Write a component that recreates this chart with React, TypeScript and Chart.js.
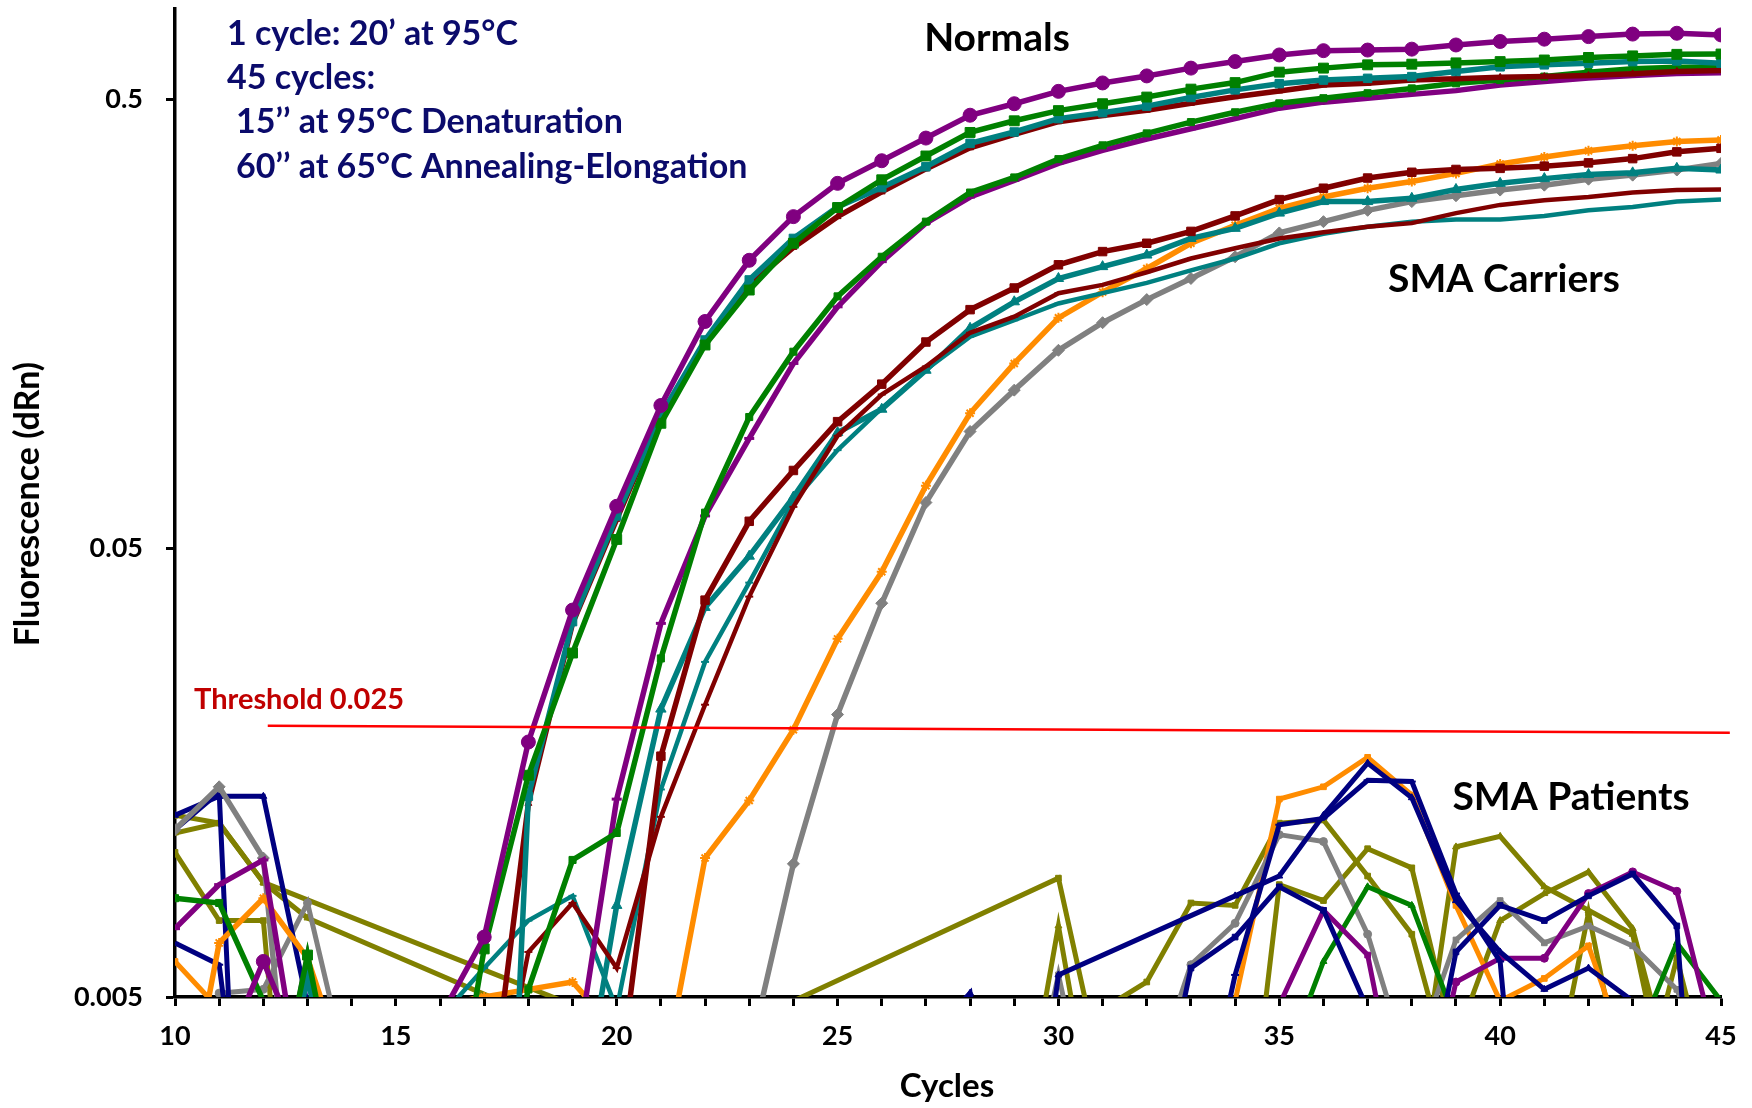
import React, { useEffect, useRef } from "react";
import { Chart, registerables } from "chart.js";

Chart.register(...registerables);

// ---------- data ----------
const cycles = [10, 11, 12, 13, 14, 15, 16, 17, 18, 19, 20, 21, 22, 23, 24, 25, 26, 27, 28, 29, 30, 31, 32, 33, 34, 35, 36, 37, 38, 39, 40, 41, 42, 43, 44, 45];
const yTickValues = [0.005, 0.05, 0.5];
const xTickLabels = ["10", "15", "20", "25", "30", "35", "40", "45"];
const thresholdX = [12.1, 45.2];
const thresholdY = [0.0201, 0.0194];

// Normals
const normal1Purple = [0.002, 0.0035, 0.006, 0.0035, 0.001, 0.001, 0.0045, 0.0068, 0.0185, 0.0364, 0.062, 0.104, 0.16, 0.219, 0.274, 0.325, 0.365, 0.41, 0.461, 0.489, 0.521, 0.544, 0.564, 0.587, 0.607, 0.628, 0.642, 0.644, 0.647, 0.661, 0.673, 0.681, 0.69, 0.699, 0.702, 0.696];
const normal2Green = [0.002, 0.002, 0.002, 0.0062, 0.002, 0.001, 0.0017, 0.0064, 0.0156, 0.0292, 0.0523, 0.0949, 0.1418, 0.188, 0.239, 0.287, 0.331, 0.374, 0.422, 0.448, 0.472, 0.489, 0.506, 0.527, 0.545, 0.575, 0.587, 0.597, 0.599, 0.603, 0.607, 0.612, 0.62, 0.625, 0.63, 0.631];
const normal3Teal = [0.002, 0.002, 0.002, 0.0055, 0.002, 0.001, 0.0001, 0.0001, 0.014, 0.0343, 0.059, 0.099, 0.1455, 0.198, 0.245, 0.288, 0.318, 0.354, 0.399, 0.423, 0.453, 0.467, 0.483, 0.505, 0.525, 0.542, 0.552, 0.557, 0.562, 0.577, 0.591, 0.597, 0.602, 0.607, 0.609, 0.602];
const normal4DarkRed = [0.002, 0.002, 0.002, 0.002, 0.002, 0.002, 0.002, 0.0022, 0.0135, 0.034, 0.058, 0.098, 0.143, 0.193, 0.234, 0.274, 0.311, 0.35, 0.39, 0.418, 0.446, 0.46, 0.473, 0.49, 0.507, 0.522, 0.538, 0.543, 0.552, 0.556, 0.56, 0.562, 0.565, 0.57, 0.577, 0.58];
const normal5Green = [0.0083, 0.0081, 0.0049, 0.002, 0.002, 0.002, 0.002, 0.002, 0.0052, 0.0101, 0.0116, 0.0284, 0.06, 0.098, 0.137, 0.182, 0.223, 0.267, 0.31, 0.335, 0.368, 0.395, 0.42, 0.445, 0.468, 0.49, 0.503, 0.516, 0.529, 0.543, 0.552, 0.562, 0.575, 0.585, 0.59, 0.59];
const normal6Purple = [0.0071, 0.0089, 0.0101, 0.0025, 0.001, 0.001, 0.001, 0.001, 0.001, 0.0032, 0.0138, 0.034, 0.059, 0.0878, 0.129, 0.1725, 0.2175, 0.265, 0.303, 0.33, 0.36, 0.385, 0.408, 0.43, 0.453, 0.478, 0.493, 0.503, 0.513, 0.523, 0.538, 0.548, 0.558, 0.565, 0.571, 0.573];

// SMA carriers
const carrier1DarkRed = [0.002, 0.002, 0.002, 0.002, 0.002, 0.002, 0.002, 0.002, 0.002, 0.002, 0.0029, 0.0172, 0.0383, 0.0574, 0.0745, 0.0957, 0.116, 0.144, 0.17, 0.19, 0.214, 0.229, 0.239, 0.254, 0.275, 0.299, 0.317, 0.334, 0.344, 0.349, 0.351, 0.355, 0.361, 0.369, 0.382, 0.389];
const carrier2DarkRed = [0.002, 0.002, 0.002, 0.002, 0.002, 0.002, 0.002, 0.002, 0.0063, 0.0081, 0.0058, 0.0126, 0.0224, 0.039, 0.0618, 0.089, 0.11, 0.127, 0.151, 0.164, 0.185, 0.193, 0.206, 0.221, 0.233, 0.245, 0.253, 0.26, 0.265, 0.279, 0.291, 0.298, 0.303, 0.31, 0.314, 0.315];
const carrier3Teal = [0.002, 0.002, 0.002, 0.002, 0.002, 0.002, 0.002, 0.002, 0.002, 0.0021, 0.008, 0.0219, 0.0369, 0.048, 0.065, 0.0905, 0.102, 0.1246, 0.1545, 0.177, 0.1995, 0.212, 0.225, 0.245, 0.258, 0.279, 0.296, 0.296, 0.301, 0.315, 0.325, 0.333, 0.34, 0.343, 0.351, 0.348];
const carrier4Teal = [0.002, 0.002, 0.002, 0.002, 0.002, 0.002, 0.0045, 0.0058, 0.0074, 0.0084, 0.0047, 0.0145, 0.0279, 0.0419, 0.0635, 0.0827, 0.1026, 0.125, 0.148, 0.161, 0.1755, 0.185, 0.195, 0.208, 0.221, 0.239, 0.251, 0.26, 0.267, 0.27, 0.27, 0.275, 0.283, 0.288, 0.296, 0.299];
const carrier5Orange = [0.002, 0.0066, 0.0083, 0.0061, 0.0031, 0.0043, 0.0048, 0.005, 0.0052, 0.0054, 0.0042, 0.0031, 0.0102, 0.0137, 0.0197, 0.0314, 0.0443, 0.0689, 0.0999, 0.129, 0.163, 0.186, 0.21, 0.239, 0.262, 0.286, 0.303, 0.317, 0.328, 0.342, 0.359, 0.372, 0.384, 0.394, 0.403, 0.406];
const carrier6Gray = [0.0118, 0.0147, 0.0102, 0.001, 0.001, 0.001, 0.001, 0.001, 0.001, 0.001, 0.001, 0.001, 0.001, 0.0037, 0.0099, 0.0213, 0.0377, 0.0632, 0.091, 0.1125, 0.138, 0.159, 0.179, 0.1995, 0.223, 0.252, 0.267, 0.283, 0.296, 0.305, 0.314, 0.322, 0.332, 0.339, 0.348, 0.36];

// SMA patients (values below 0.005 lie under the axis; null = no positive reading)
const patient1Navy = [0.0127, 0.014, 0.014, 0.0048, 0.002, 0.002, 0.002, 0.002, 0.002, 0.002, 0.002, 0.002, 0.002, 0.002, 0.002, 0.002, 0.002, 0.004, 0.0051, 0.001, 0.0056, null, null, null, 0.0084, 0.0093, 0.0127, 0.0166, 0.0139, 0.0082, 0.0063, 0.0052, 0.0058, 0.0049, 0.002, 0.002];
const patient2Navy = [0.0118, 0.0143, 0.0001, 0.002, 0.002, 0.002, 0.002, 0.002, 0.002, 0.002, 0.002, 0.002, 0.002, 0.002, 0.002, 0.002, 0.002, 0.002, 0.002, 0.002, 0.002, 0.002, 0.002, 0.0058, 0.0068, 0.0088, 0.0078, 0.0047, 0.002, 0.002, 0.002, 0.002, 0.002, 0.002, 0.002, 0.002];
const patient3Navy = [0.0066, 0.0059, 0.001, 0.002, 0.002, 0.002, 0.002, 0.002, 0.002, 0.002, 0.002, 0.002, 0.002, 0.002, 0.002, 0.002, 0.002, 0.002, 0.002, 0.002, 0.002, 0.002, 0.002, 0.002, 0.0056, 0.0121, 0.0125, 0.0152, 0.0151, 0.0085, 0.006, 0.0005, 0.002, 0.002, 0.002, 0.002];
const patient4Navy = [0.002, 0.002, 0.002, 0.002, 0.002, 0.002, 0.002, 0.002, 0.002, 0.002, 0.002, 0.002, 0.002, 0.002, 0.002, 0.002, 0.002, 0.002, 0.002, 0.002, 0.002, 0.002, 0.002, 0.002, 0.002, 0.002, 0.002, 0.002, 0.002, 0.0063, 0.008, 0.0074, 0.0084, 0.0094, 0.0072, 0.0003];
const patient5Purple = [0.002, 0.002, 0.002, 0.0062, 0.002, 0.002, 0.002, 0.002, 0.002, 0.002, 0.002, 0.002, 0.002, 0.002, 0.002, 0.002, 0.002, 0.002, 0.002, 0.002, 0.002, 0.002, 0.002, 0.002, 0.002, 0.002, 0.002, 0.002, 0.002, 0.0054, 0.0061, 0.0061, 0.0085, 0.0095, 0.0086, 0.0035];
const patient6Purple = [0.002, 0.002, 0.002, 0.002, 0.002, 0.002, 0.002, 0.002, 0.002, 0.002, 0.002, 0.002, 0.002, 0.002, 0.002, 0.002, 0.002, 0.002, 0.002, 0.002, 0.002, 0.002, 0.002, 0.002, 0.002, 0.0048, 0.0078, 0.0062, 0.002, 0.002, 0.002, 0.002, 0.002, 0.002, 0.002, 0.002];
const patient7Green = [0.002, 0.002, 0.002, 0.002, 0.002, 0.002, 0.002, 0.002, 0.002, 0.002, 0.002, 0.002, 0.002, 0.002, 0.002, 0.002, 0.002, 0.002, 0.002, 0.002, 0.002, 0.002, 0.002, 0.002, 0.002, 0.0033, 0.006, 0.0088, 0.008, 0.0044, 0.002, 0.002, 0.002, 0.0038, 0.0066, 0.0049];
const patient8Gray = [null, 0.0051, 0.0052, 0.0081, 0.0031, 0.002, 0.002, 0.002, 0.002, 0.002, 0.002, 0.002, 0.002, 0.002, 0.002, 0.002, 0.002, 0.002, 0.002, 0.002, 0.002, 0.002, 0.003, 0.0059, 0.0073, 0.0115, 0.0111, 0.0069, 0.0033, 0.002, 0.002, 0.002, 0.002, 0.002, 0.002, 0.002];
const patient9Gray = [0.002, 0.002, 0.002, 0.002, 0.002, 0.002, 0.002, 0.002, 0.002, 0.002, 0.002, 0.002, 0.002, 0.002, 0.002, 0.002, 0.002, 0.002, 0.002, 0.002, 0.0056, 0.002, 0.002, 0.002, 0.002, 0.002, 0.002, 0.002, 0.0035, 0.0067, 0.0082, 0.0066, 0.0072, 0.0065, 0.0052, 0.003];
const patient10Orange = [0.006, 0.0047, 0.002, 0.002, 0.002, 0.002, 0.002, 0.002, 0.002, 0.002, 0.002, 0.002, 0.002, 0.002, 0.002, 0.002, 0.002, 0.002, 0.002, 0.002, 0.002, 0.002, 0.002, 0.002, 0.0049, 0.0138, 0.0147, 0.0171, 0.0141, 0.008, 0.0049, 0.0055, 0.0065, 0.0034, 0.002, 0.002];
const patient11Olive = [0.0127, 0.0122, 0.009, null, null, null, null, null, null, 0.0048, null, 0.001, null, null, 0.0049, null, null, null, null, null, 0.0092, 0.0033, 0.002, 0.002, 0.0013, 0.0089, 0.0082, 0.0107, 0.0097, 0.0038, 0.002, 0.002, 0.002, 0.002, 0.002, 0.002];
const patient12Olive = [0.0116, 0.0122, 0.009, 0.0075, null, null, null, null, 0.0046, 0.001, 0.001, 0.001, 0.001, 0.001, 0.001, 0.001, 0.001, 0.001, 0.001, 0.002, 0.0072, 0.002, 0.002, 0.002, 0.002, 0.002, 0.002, 0.002, 0.0023, 0.0108, 0.0114, 0.0088, 0.0078, 0.0069, 0.0024, 0.002];
const patient13Olive = [0.0105, 0.0074, 0.0074, 0.0006, 0.002, 0.002, 0.002, 0.002, 0.002, 0.002, 0.002, 0.002, 0.002, 0.002, 0.002, 0.002, 0.002, 0.002, 0.002, 0.002, 0.001, 0.0047, 0.0054, 0.0081, 0.008, 0.0122, 0.0124, 0.0093, 0.0069, 0.003, 0.002, 0.002, 0.002, 0.002, 0.002, 0.002];
const patient14Olive = [0.002, 0.002, 0.002, 0.002, 0.002, 0.002, 0.002, 0.002, 0.002, 0.002, 0.002, 0.002, 0.002, 0.002, 0.002, 0.002, 0.002, 0.002, 0.002, 0.002, 0.002, 0.002, 0.002, 0.002, 0.002, 0.002, 0.002, 0.002, 0.002, 0.004, 0.0074, 0.0085, 0.0095, 0.0071, 0.003, 0.002];
const patient15Olive = [0.002, 0.002, 0.002, 0.002, 0.002, 0.002, 0.002, 0.002, 0.002, 0.002, 0.002, 0.002, 0.002, 0.002, 0.002, 0.002, 0.002, 0.002, 0.002, 0.002, 0.002, 0.002, 0.002, 0.002, 0.002, 0.002, 0.002, 0.002, 0.002, 0.002, 0.002, 0.0025, 0.0077, 0.0025, 0.0061, 0.0025];

// ---------- styles ----------
const PURPLE = "#800080";
const GREEN = "#008000";
const TEAL = "#008080";
const DARKRED = "#800000";
const ORANGE = "#FF8C00";
const GRAY = "#808080";
const NAVY = "#000080";
const OLIVE = "#808000";
const FONT = "Lato";

function series(label: string, values: (number | null)[], color: string, opts: any = {}) {
  return {
    label,
    data: cycles.map((c, i) => ({ x: c, y: values[i] })),
    borderColor: color,
    backgroundColor: color,
    pointBackgroundColor: color,
    pointBorderColor: color,
    pointBorderWidth: 1,
    borderWidth: 5,
    pointRadius: 4,
    pointStyle: "rect",
    tension: 0,
    spanGaps: true,
    ...opts,
  };
}

const textPlugin = {
  id: "chartTexts",
  afterDraw(chart: any) {
    const ctx = chart.ctx as CanvasRenderingContext2D;
    ctx.save();
    ctx.textBaseline = "middle";

    // protocol block
    ctx.fillStyle = "#0B0B6B";
    ctx.font = `bold 34px ${FONT}`;
    ctx.textAlign = "left";
    ctx.fillText("1 cycle: 20\u2019 at 95\u00B0C", 227, 34);
    ctx.fillText("45 cycles:", 227, 78);
    ctx.fillText("15\u2019\u2019 at 95\u00B0C Denaturation", 236, 122);
    ctx.fillText("60\u2019\u2019 at 65\u00B0C Annealing-Elongation", 236, 167);

    // group labels
    ctx.fillStyle = "#000";
    ctx.font = `bold 39px ${FONT}`;
    ctx.textAlign = "center";
    ctx.fillText("Normals", 997, 38);
    ctx.fillText("SMA Carriers", 1504, 279);
    ctx.fillText("SMA Patients", 1571, 797);

    // threshold label
    ctx.fillStyle = "#C00000";
    ctx.font = `bold 29px ${FONT}`;
    ctx.textAlign = "left";
    ctx.fillText("Threshold 0.025", 194, 700);

    // axis titles
    ctx.fillStyle = "#000";
    ctx.font = `bold 33px ${FONT}`;
    ctx.textAlign = "center";
    ctx.fillText("Cycles", 947, 1086);
    ctx.font = `bold 34px ${FONT}`;
    ctx.translate(28, 504);
    ctx.rotate(-Math.PI / 2);
    ctx.fillText("Fluorescence (dRn)", 0, 0);
    ctx.restore();
  },
};

export default function App() {
  const ref = useRef<HTMLCanvasElement | null>(null);

  useEffect(() => {
    if (!ref.current) return;
    const datasets: any[] = [
      {
        label: "Threshold",
        data: thresholdX.map((x, i) => ({ x, y: thresholdY[i] })),
        borderColor: "#FF0000",
        borderWidth: 2.5,
        pointRadius: 0,
        tension: 0,
        clip: false,
      },
      series("Normal 1", normal1Purple, PURPLE, { pointStyle: "circle", pointRadius: 7, borderWidth: 5.5 }),
      series("Normal 2", normal2Green, GREEN, { pointStyle: "rect", pointRadius: 7, borderWidth: 5.5 }),
      series("Normal 3", normal3Teal, TEAL, { pointStyle: "rect", pointRadius: 6, borderWidth: 5.5 }),
      series("Normal 4", normal4DarkRed, DARKRED, { pointStyle: "triangle", pointRadius: 4, borderWidth: 5.5 }),
      series("Normal 5", normal5Green, GREEN, { pointStyle: "rect", pointRadius: 5, borderWidth: 5.5 }),
      series("Normal 6", normal6Purple, PURPLE, { pointStyle: "line", pointRadius: 5, pointBorderWidth: 3, borderWidth: 5.5 }),
      series("Carrier 1", carrier1DarkRed, DARKRED, { pointStyle: "rect", pointRadius: 6, borderWidth: 5.5 }),
      series("Carrier 2", carrier2DarkRed, DARKRED, { pointStyle: "line", pointRadius: 4, pointBorderWidth: 2, borderWidth: 4.5 }),
      series("Carrier 3", carrier3Teal, TEAL, { pointStyle: "triangle", pointRadius: 6, borderWidth: 5.5 }),
      series("Carrier 4", carrier4Teal, TEAL, { pointStyle: "line", pointRadius: 4, pointBorderWidth: 2, borderWidth: 4.5 }),
      series("Carrier 5", carrier5Orange, ORANGE, { pointStyle: "star", pointRadius: 5, pointBorderWidth: 2, borderWidth: 5.5 }),
      series("Carrier 6", carrier6Gray, GRAY, { pointStyle: "rectRot", pointRadius: 6, borderWidth: 5.5 }),
      series("Patient 1", patient1Navy, NAVY, { pointStyle: "triangle" }),
      series("Patient 2", patient2Navy, NAVY, { pointStyle: "rect" }),
      series("Patient 3", patient3Navy, NAVY, { pointStyle: "line", pointBorderWidth: 2 }),
      series("Patient 4", patient4Navy, NAVY, { pointStyle: "rect" }),
      series("Patient 5", patient5Purple, PURPLE, { pointStyle: "circle" }),
      series("Patient 6", patient6Purple, PURPLE, { pointStyle: "rect" }),
      series("Patient 7", patient7Green, GREEN, { pointStyle: "triangle" }),
      series("Patient 8", patient8Gray, GRAY, { pointStyle: "circle" }),
      series("Patient 9", patient9Gray, GRAY, { pointStyle: "rect" }),
      series("Patient 10", patient10Orange, ORANGE, { pointStyle: "rect" }),
      series("Patient 11", patient11Olive, OLIVE, { pointStyle: "rect" }),
      series("Patient 12", patient12Olive, OLIVE, { pointStyle: "triangle" }),
      series("Patient 13", patient13Olive, OLIVE, { pointStyle: "rect" }),
      series("Patient 14", patient14Olive, OLIVE, { pointStyle: "triangle" }),
      series("Patient 15", patient15Olive, OLIVE, { pointStyle: "rect" }),
    ];

    const tickFont = { family: FONT, size: 27, weight: "bold" as const };
    const chart = new Chart(ref.current, {
      type: "line",
      data: { datasets },
      options: {
        responsive: false,
        animation: false,
        events: [],
        layout: { padding: { left: 0, right: 31, top: 9, bottom: 0 } },
        plugins: { legend: { display: false }, tooltip: { enabled: false } },
        scales: {
          x: {
            type: "linear",
            min: 10,
            max: 45,
            afterFit: (s: any) => {
              s.height = 111;
              s.paddingLeft = 0;
              s.paddingRight = 0;
            },
            ticks: {
              stepSize: 1,
              autoSkip: false,
              maxRotation: 0,
              color: "#000",
              font: tickFont,
              padding: 14,
              callback: (v: any) => {
                const s = String(v);
                return xTickLabels.includes(s) ? s : "";
              },
            },
            grid: { display: true, drawOnChartArea: false, drawTicks: true, tickLength: 9, tickWidth: 3, tickColor: "#000" },
            border: { display: true, color: "#000", width: 3.5 },
          },
          y: {
            type: "logarithmic",
            min: 0.005,
            max: 0.795,
            afterFit: (s: any) => {
              s.width = 175;
              s.paddingTop = 0;
              s.paddingBottom = 0;
            },
            afterBuildTicks: (s: any) => {
              s.ticks = yTickValues.map((v) => ({ value: v }));
            },
            ticks: {
              autoSkip: false,
              color: "#000",
              font: tickFont,
              padding: 23,
              callback: (v: any) => String(v),
            },
            grid: { display: true, drawOnChartArea: false, drawTicks: true, tickLength: 9, tickWidth: 3, tickColor: "#000" },
            border: { display: true, color: "#000", width: 3.5 },
          },
        },
      },
      plugins: [textPlugin],
    } as any);
    return () => chart.destroy();
  }, []);

  return (
    <div style={{ position: "absolute", left: 0, top: 0, width: 1752, height: 1108, background: "#fff" }}>
      <canvas ref={ref} width={1752} height={1108} style={{ display: "block", width: 1752, height: 1108 }} />
    </div>
  );
}
